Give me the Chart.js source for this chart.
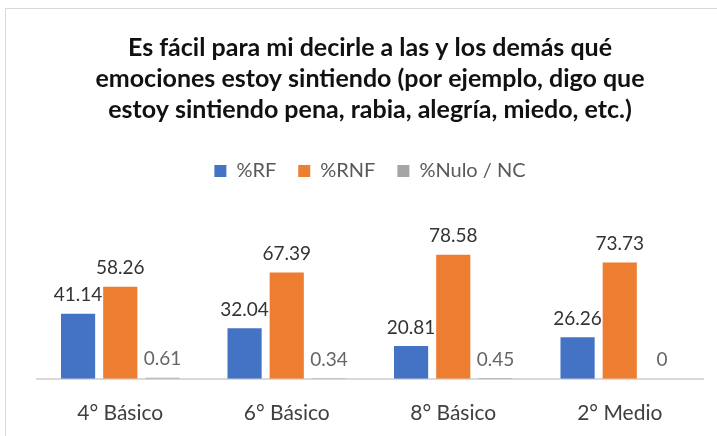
<!DOCTYPE html>
<html>
<head>
<meta charset="utf-8">
<script src="https://cdn.jsdelivr.net/npm/chart.js@4"></script>
<style>
  html, body { margin: 0; padding: 0; background: #fff; overflow: hidden; }
  #box { position: absolute; left: 5px; top: 8px; width: 728px; height: 440px; border: 1px solid #d9d9d9; }
</style>
</head>
<body>
<div id="box"><canvas id="chart" width="728" height="440"></canvas></div>
<script>
const categories = ['4° Básico', '6° Básico', '8° Básico', '2° Medio'];
const rfValues = [41.14, 32.04, 20.81, 26.26];
const rnfValues = [58.26, 67.39, 78.58, 73.73];
const nuloValues = [0.61, 0.34, 0.45, 0];
const titleLines = [
  'Es fácil para mi decirle a las y los demás qué',
  'emociones estoy sintiendo (por ejemplo, digo que',
  'estoy sintiendo pena, rabia, alegría, miedo, etc.)'
];

const FONT = 'Lato, "Open Sans", sans-serif';

// simple data labels above each bar
const barLabels = {
  id: 'barLabels',
  afterDatasetsDraw(chart) {
    const c = chart.ctx;
    c.save();
    c.font = '19px ' + FONT;
    c.textAlign = 'center';
    c.textBaseline = 'bottom';
    chart.data.datasets.forEach((ds, i) => {
      c.fillStyle = i === 2 ? '#666666' : '#333333';
      chart.getDatasetMeta(i).data.forEach((bar, j) => {
        c.fillText(String(ds.data[j]), bar.x, bar.y - 9);
      });
    });
    c.restore();
  }
};

new Chart(document.getElementById('chart'), {
  type: 'bar',
  data: {
    labels: categories,
    datasets: [
      { label: '%RF', data: rfValues, backgroundColor: '#4472C4' },
      { label: '%RNF', data: rnfValues, backgroundColor: '#ED7D31' },
      { label: '%Nulo / NC', data: nuloValues, backgroundColor: '#A5A5A5' }
    ]
  },
  options: {
    responsive: false,
    animation: false,
    layout: { padding: { left: 31, right: 31, top: 0, bottom: 9 } },
    datasets: { bar: { categoryPercentage: 0.76, barPercentage: 0.81 } },
    plugins: {
      title: {
        display: true,
        text: titleLines,
        color: '#111111',
        font: { family: FONT, size: 25, weight: 'bold', lineHeight: 1.24 },
        padding: { top: 23, bottom: 14 }
      },
      legend: {
        labels: {
          boxWidth: 12, boxHeight: 12, color: '#595959',
          font: { family: FONT, size: 20 }, padding: 22
        }
      },
      tooltip: { enabled: false }
    },
    scales: {
      y: { display: false, min: 0, max: 119 },
      x: {
        grid: { display: false },
        border: { display: true, color: '#d9d9d9', width: 2 },
        ticks: { color: '#404040', font: { family: FONT, size: 21 }, padding: 14 }
      }
    }
  },
  plugins: [barLabels]
});
</script>
</body>
</html>
